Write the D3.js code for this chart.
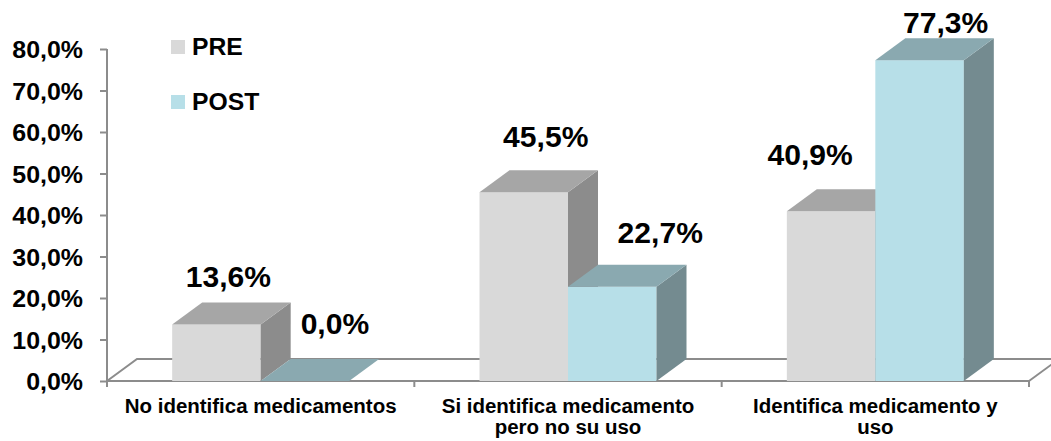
<!DOCTYPE html>
<html>
<head>
<meta charset="utf-8">
<script src="https://cdn.jsdelivr.net/npm/d3@7"></script>
<style>
  html, body { margin: 0; padding: 0; background: #ffffff; }
  svg { display: block; }
  text { font-family: "Liberation Sans", Arial, sans-serif; font-weight: bold; fill: #000; }
</style>
</head>
<body>
<svg id="chart" width="1051" height="441"></svg>
<script>
// Data
const categories = [
  ["No identifica medicamentos"],
  ["Si identifica medicamento", "pero no su uso"],
  ["Identifica medicamento y", "uso"]
];
const series = ["PRE", "POST"];
const preValues = [13.6, 45.5, 40.9];
const postValues = [0.0, 22.7, 77.3];
const yTicks = [0, 10, 20, 30, 40, 50, 60, 70, 80];

// Colours per series: front, top, side faces
const faceColors = {
  PRE:  { front: "#d9d9d9", top: "#a6a6a6", side: "#8c8c8c" },
  POST: { front: "#b7dfe8", top: "#8aa9b0", side: "#748b90" }
};

const svg = d3.select("#chart");
const depthX = 30, depthY = -22; // 3D depth offset
const lineColor = "#8c8c8c";

const catKeys = categories.map(c => c.join(" "));
const x = d3.scaleBand().domain(catKeys).range([107, 1029]).padding(0);
const y = d3.scaleLinear().domain([0, 80]).range([381, 49]);
const barW = 88.5;
const xs = d3.scaleBand().domain(series)
  .range([x.bandwidth() / 2 - barW, x.bandwidth() / 2 + barW]).padding(0);

const fmt = v => d3.format(".1f")(v).replace(".", ",") + "%";
const y0 = y(0);

// Floor (3D base plane)
const floor = svg.append("g").attr("fill", "none").attr("stroke", lineColor).attr("stroke-width", 2);
floor.append("path")
  .attr("d", `M${x.range()[0]},${y0} L${x.range()[0] + depthX},${y0 + depthY} L1060,${y0 + depthY}`);
floor.append("path")
  .attr("d", `M${x.range()[1]},${y0} L${x.range()[1] + depthX},${y0 + depthY}`);
floor.append("line")
  .attr("x1", x.range()[0]).attr("x2", x.range()[1])
  .attr("y1", y0).attr("y2", y0);

// Category separators
floor.selectAll("line.sep")
  .data([x.range()[0], ...catKeys.map(k => x(k) + x.bandwidth())])
  .join("line").attr("class", "sep")
  .attr("x1", d => d).attr("x2", d => d)
  .attr("y1", y0).attr("y2", y0 + 6);

// Y axis
const yAxis = svg.append("g")
  .attr("transform", `translate(${x.range()[0]},0)`)
  .call(d3.axisLeft(y).tickValues(yTicks).tickFormat(fmt).tickSize(7).tickSizeOuter(0));
yAxis.select(".domain").remove();
yAxis.selectAll(".tick line").attr("stroke", lineColor).attr("stroke-width", 2);
yAxis.selectAll(".tick text")
  .attr("x", 0).attr("dy", null)
  .attr("text-anchor", "end")
  .attr("transform", "translate(-24,8.5) scale(1.04,1)")
  .style("font-size", "24px")
  .style("font-family", "'Liberation Sans', Arial, sans-serif")
  .style("font-weight", "bold")
  .attr("fill", "#000");
svg.append("line")
  .attr("x1", x.range()[0]).attr("x2", x.range()[0])
  .attr("y1", y(80)).attr("y2", y0 + 6)
  .attr("stroke", lineColor).attr("stroke-width", 2);

// Bars
const bars = [];
catKeys.forEach((k, i) => {
  bars.push({ cat: k, s: "PRE", v: preValues[i], i });
  bars.push({ cat: k, s: "POST", v: postValues[i], i });
});

const barG = svg.append("g");
bars.forEach(b => {
  const x0 = x(b.cat) + xs(b.s), x1 = x0 + xs.bandwidth();
  const yt = y(b.v);
  const c = faceColors[b.s];
  const g = barG.append("g");
  if (b.v > 0) {
    g.append("rect").attr("x", x0).attr("y", yt).attr("width", x1 - x0).attr("height", y0 - yt)
      .attr("fill", c.front);
    g.append("path")
      .attr("d", `M${x1},${yt} L${x1 + depthX},${yt + depthY} L${x1 + depthX},${y0 + depthY} L${x1},${y0} Z`)
      .attr("fill", c.side);
  }
  g.append("path")
    .attr("d", `M${x0},${yt} L${x0 + depthX},${yt + depthY} L${x1 + depthX},${yt + depthY} L${x1},${yt} Z`)
    .attr("fill", c.top);
});

// Value labels (hand-placed relative to each bar's top)
const labelNudge = {
  PRE:  [[12, -16], [22, -23], [-21, -24]],
  POST: [[30, -25], [48, -22], [26, -5]]
};
bars.forEach(b => {
  const cx = x(b.cat) + xs(b.s) + xs.bandwidth() / 2;
  const yb = y(b.v) + depthY;
  const [dx, dy] = labelNudge[b.s][b.i];
  svg.append("text")
    .attr("text-anchor", "middle")
    .attr("transform", `translate(${cx + dx},${yb + dy}) scale(1.02,1)`)
    .style("font-size", "29.5px")
    .text(fmt(b.v));
});

// Category labels
catKeys.forEach((k, i) => {
  const cx = x(k) + x.bandwidth() / 2;
  categories[i].forEach((line, j) => {
    svg.append("text")
      .attr("text-anchor", "middle")
      .attr("transform", `translate(${cx},${413 + j * 21}) scale(1.05,1)`)
      .style("font-size", "19.5px")
      .text(line);
  });
});

// Legend
const legend = svg.append("g");
series.forEach((s, i) => {
  const ly = 55 + i * 55;
  legend.append("rect")
    .attr("x", 171).attr("y", ly - 15).attr("width", 14).attr("height", 14)
    .attr("fill", faceColors[s].front);
  legend.append("text")
    .attr("transform", `translate(192,${ly}) scale(1.03,1)`)
    .style("font-size", "24px")
    .text(s);
});
</script>
</body>
</html>
